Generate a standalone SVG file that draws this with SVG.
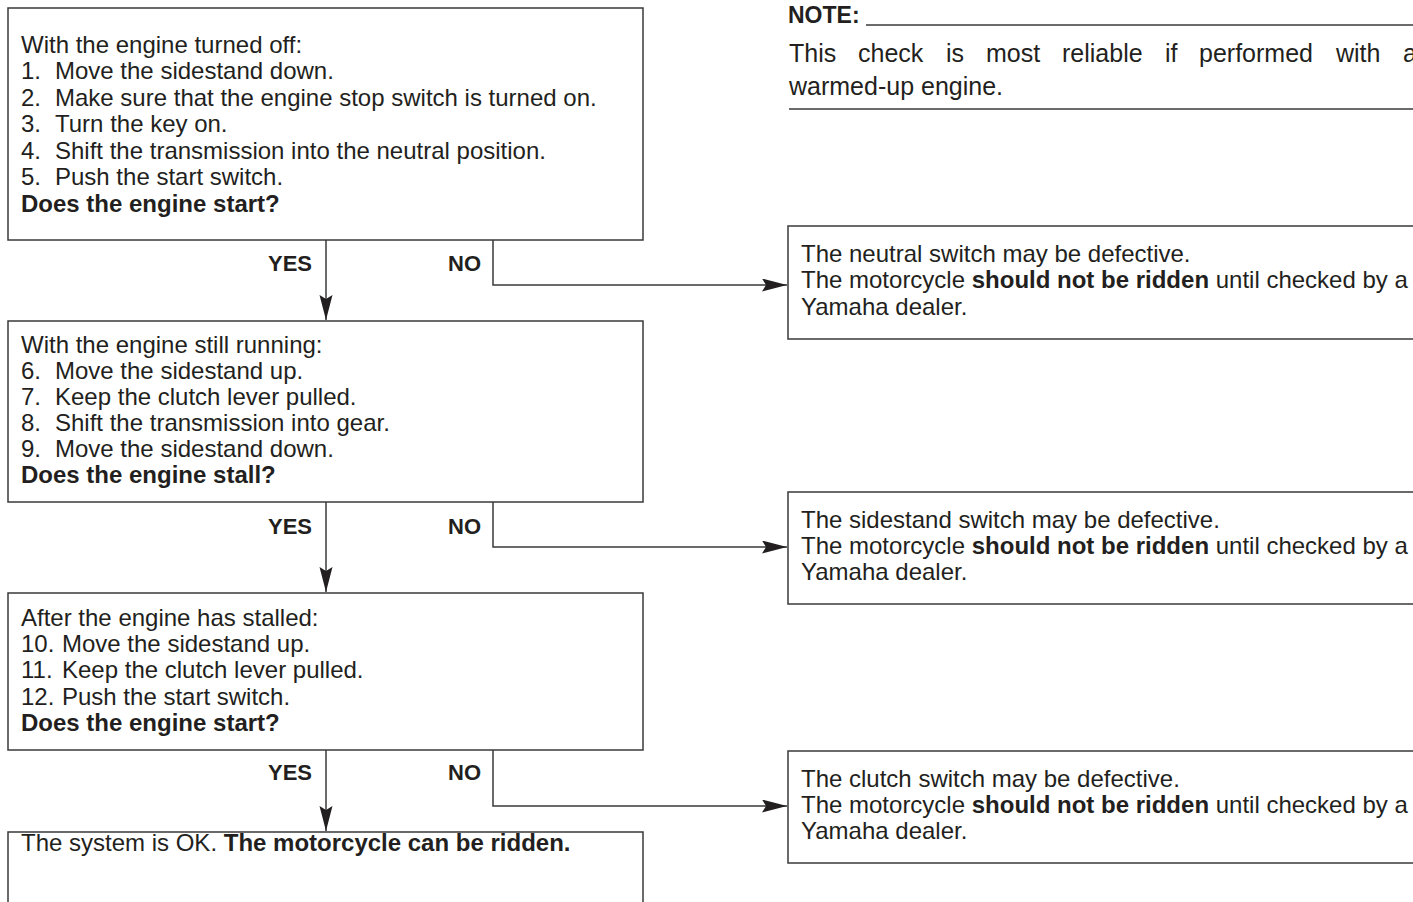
<svg xmlns="http://www.w3.org/2000/svg" width="1413" height="902" viewBox="0 0 1413 902">
<defs>
<style>
.box{fill:#fff;stroke:#3a3a3a;stroke-width:1.5}
.t{font-family:"Liberation Sans",Arial,Helvetica,sans-serif;font-size:24px;fill:#231f20}
.n{font-family:"Liberation Sans",Arial,Helvetica,sans-serif;font-size:25px;fill:#231f20}
.lbl{font-family:"Liberation Sans",Arial,Helvetica,sans-serif;font-size:22px;font-weight:bold;fill:#231f20}
.b{font-weight:bold}
.c{fill:none;stroke:#3a3a3a;stroke-width:1.5}
.rule{stroke:#3a3a3a;stroke-width:1.5}
</style>
<marker id="ah" markerUnits="userSpaceOnUse" markerWidth="28" markerHeight="14" refX="25" refY="6.5" orient="auto">
<path d="M0,0 L25,6.5 L0,13 L4,6.5 z" fill="#231f20"/>
</marker>
</defs>
<rect width="1413" height="902" fill="#fff"/>

<g id="note">
<text class="lbl" x="788" y="23" style="font-size:23px">NOTE:</text>
<line class="rule" x1="866" y1="25" x2="1413" y2="25"/>
<text class="n" y="62"><tspan x="789">This</tspan><tspan x="858">check</tspan><tspan x="946">is</tspan><tspan x="986">most</tspan><tspan x="1062">reliable</tspan><tspan x="1165">if</tspan><tspan x="1199">performed</tspan><tspan x="1336">with</tspan><tspan x="1403">a</tspan></text>
<text class="n" x="789" y="95">warmed-up engine.</text>
<line class="rule" x1="789" y1="109" x2="1413" y2="109"/>
</g>

<g id="connectors">
<line class="c" x1="326" y1="240" x2="326" y2="320" marker-end="url(#ah)"/>
<polyline class="c" points="493,240 493,285 787,285" marker-end="url(#ah)"/>
<line class="c" x1="326" y1="502" x2="326" y2="592" marker-end="url(#ah)"/>
<polyline class="c" points="493,502 493,547 787,547" marker-end="url(#ah)"/>
<line class="c" x1="326" y1="750" x2="326" y2="831" marker-end="url(#ah)"/>
<polyline class="c" points="493,750 493,806 787,806" marker-end="url(#ah)"/>
<text class="lbl" x="312" y="271" text-anchor="end">YES</text>
<text class="lbl" x="481" y="271" text-anchor="end">NO</text>
<text class="lbl" x="312" y="534" text-anchor="end">YES</text>
<text class="lbl" x="481" y="534" text-anchor="end">NO</text>
<text class="lbl" x="312" y="780" text-anchor="end">YES</text>
<text class="lbl" x="481" y="780" text-anchor="end">NO</text>
</g>

<g id="step1">
<rect class="box" x="8" y="8" width="635" height="232"/>
<text class="t" x="21" y="53">With the engine turned off:</text>
<text class="t" y="79"><tspan x="21">1.</tspan><tspan x="55">Move the sidestand down.</tspan></text>
<text class="t" y="106"><tspan x="21">2.</tspan><tspan x="55">Make sure that the engine stop switch is turned on.</tspan></text>
<text class="t" y="132"><tspan x="21">3.</tspan><tspan x="55">Turn the key on.</tspan></text>
<text class="t" y="159"><tspan x="21">4.</tspan><tspan x="55">Shift the transmission into the neutral position.</tspan></text>
<text class="t" y="185"><tspan x="21">5.</tspan><tspan x="55">Push the start switch.</tspan></text>
<text class="t b" x="21" y="212">Does the engine start?</text>
</g>

<g id="step2">
<rect class="box" x="8" y="321" width="635" height="181"/>
<text class="t" x="21" y="353">With the engine still running:</text>
<text class="t" y="379"><tspan x="21">6.</tspan><tspan x="55">Move the sidestand up.</tspan></text>
<text class="t" y="405"><tspan x="21">7.</tspan><tspan x="55">Keep the clutch lever pulled.</tspan></text>
<text class="t" y="431"><tspan x="21">8.</tspan><tspan x="55">Shift the transmission into gear.</tspan></text>
<text class="t" y="457"><tspan x="21">9.</tspan><tspan x="55">Move the sidestand down.</tspan></text>
<text class="t b" x="21" y="483">Does the engine stall?</text>
</g>

<g id="step3">
<rect class="box" x="8" y="593" width="635" height="157"/>
<text class="t" x="21" y="626">After the engine has stalled:</text>
<text class="t" y="652"><tspan x="21">10.</tspan><tspan x="62">Move the sidestand up.</tspan></text>
<text class="t" y="678"><tspan x="21">11.</tspan><tspan x="62">Keep the clutch lever pulled.</tspan></text>
<text class="t" y="705"><tspan x="21">12.</tspan><tspan x="62">Push the start switch.</tspan></text>
<text class="t b" x="21" y="731">Does the engine start?</text>
</g>

<g id="ok">
<rect class="box" x="8" y="832" width="635" height="80"/>
<text class="t" x="21" y="851">The system is OK. <tspan class="b">The motorcycle can be ridden.</tspan></text>
</g>

<g id="neutral">
<rect class="box" x="788" y="226" width="640" height="113"/>
<text class="t" x="801" y="262">The neutral switch may be defective.</text>
<text class="t" x="801" y="288">The motorcycle <tspan class="b">should not be ridden</tspan> until checked by a</text>
<text class="t" x="801" y="315">Yamaha dealer.</text>
</g>

<g id="sidestand">
<rect class="box" x="788" y="492" width="640" height="112"/>
<text class="t" x="801" y="528">The sidestand switch may be defective.</text>
<text class="t" x="801" y="554">The motorcycle <tspan class="b">should not be ridden</tspan> until checked by a</text>
<text class="t" x="801" y="580">Yamaha dealer.</text>
</g>

<g id="clutch">
<rect class="box" x="788" y="751" width="640" height="112"/>
<text class="t" x="801" y="787">The clutch switch may be defective.</text>
<text class="t" x="801" y="813">The motorcycle <tspan class="b">should not be ridden</tspan> until checked by a</text>
<text class="t" x="801" y="839">Yamaha dealer.</text>
</g>
</svg>
